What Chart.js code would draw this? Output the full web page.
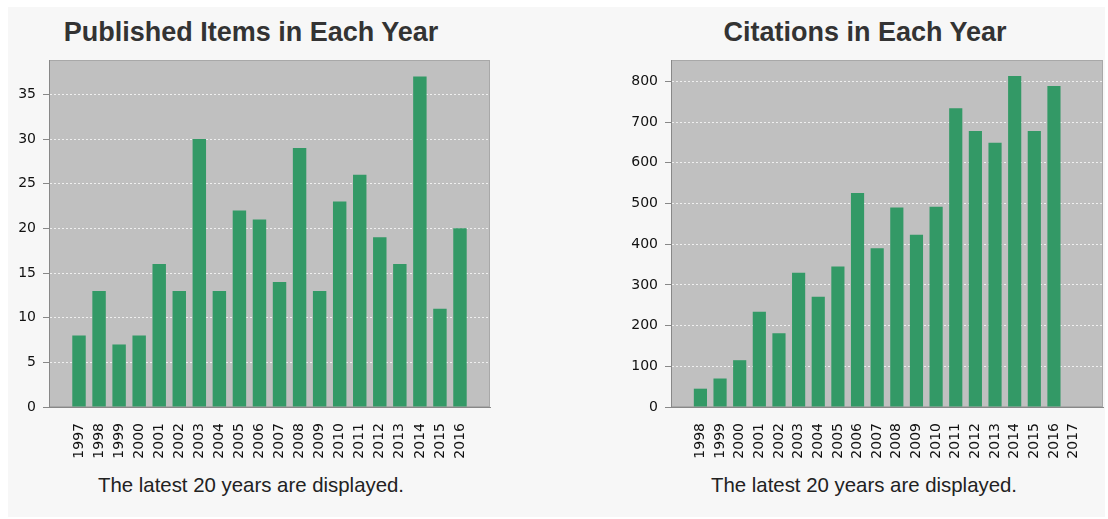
<!DOCTYPE html>
<html>
<head>
<meta charset="utf-8">
<script src="https://cdn.jsdelivr.net/npm/chart.js@4/dist/chart.umd.min.js"></script>
<style>
  body { margin: 0; background: #fff; width: 1108px; height: 519px; overflow: hidden; position: relative; font-family: "Liberation Sans", Arial, sans-serif; }
  .panel { position: absolute; left: 8px; top: 7px; width: 1097px; height: 510px; background: #f7f7f7; }
  .title { position: absolute; width: 500px; text-align: center; font-weight: bold; font-size: 27px; line-height: 30px; color: #333; top: 17px; }
  .foot { position: absolute; width: 500px; text-align: center; font-size: 20.4px; line-height: 24px; color: #222; top: 473px; }
  canvas { position: absolute; top: 0; }
</style>
</head>
<body>
<div class="panel"></div>
<div class="title" style="left:1px">Published Items in Each Year</div>
<div class="title" style="left:615px">Citations in Each Year</div>
<canvas id="items" width="500" height="470" style="left:0"></canvas>
<canvas id="cites" width="508" height="470" style="left:600px"></canvas>
<div class="foot" style="left:1px">The latest 20 years are displayed.</div>
<div class="foot" style="left:614px">The latest 20 years are displayed.</div>
<script>
// published items per year
const itemYears = [1997, 1998, 1999, 2000, 2001, 2002, 2003, 2004, 2005, 2006,
                   2007, 2008, 2009, 2010, 2011, 2012, 2013, 2014, 2015, 2016];
const itemCounts = [8, 13, 7, 8, 16, 13, 30, 13, 22, 21, 14, 29, 13, 23, 26, 19, 16, 37, 11, 20];
const itemTicks = [0, 5, 10, 15, 20, 25, 30, 35];

// citations per year (2017 has no bar)
const citeYears = [1998, 1999, 2000, 2001, 2002, 2003, 2004, 2005, 2006, 2007,
                   2008, 2009, 2010, 2011, 2012, 2013, 2014, 2015, 2016, 2017];
const citeCounts = [45, 70, 115, 234, 181, 330, 271, 345, 526, 390,
                    490, 423, 492, 734, 678, 649, 813, 678, 789, null];
const citeTicks = [0, 100, 200, 300, 400, 500, 600, 700, 800];

const plotBg = {
    id: 'plotBg',
    beforeDraw(chart) {
        const a = chart.chartArea, ctx = chart.ctx;
        ctx.save();
        ctx.fillStyle = '#c0c0c0';
        ctx.fillRect(a.left, a.top, a.right - a.left, a.bottom - a.top);
        ctx.strokeStyle = '#a8a8a8';
        ctx.lineWidth = 1;
        ctx.strokeRect(a.left + 0.5, a.top + 0.5, a.right - a.left - 1, a.bottom - a.top - 1);
        ctx.restore();
    }
};

function makeChart(canvasId, years, counts, yTicks, yMax, yWidth, padRight) {
    const ctx = document.getElementById(canvasId).getContext('2d');
    const tickFont = { family: 'DejaVu Sans', size: 14 };
    return new Chart(ctx, {
        type: 'bar',
        data: {
            datasets: [{
                data: years.map((y, i) => ({ x: i, y: counts[i] })),
                backgroundColor: '#339966',
                borderWidth: 0,
                barPercentage: 0.67,
                categoryPercentage: 1.0
            }]
        },
        options: {
            responsive: false,
            animation: false,
            layout: { padding: { top: 60, right: padRight, left: 0, bottom: 0 } },
            plugins: { legend: { display: false }, tooltip: { enabled: false } },
            scales: {
                x: {
                    type: 'linear',
                    offset: false,
                    min: -1.497,
                    max: years.length - 1 + 1.497,
                    afterBuildTicks: s => { s.ticks = years.map((_, i) => ({ value: i })); },
                    afterFit: s => { s.height = 63; },
                    grid: { display: false },
                    border: { color: '#888' },
                    ticks: {
                        autoSkip: false,
                        minRotation: 90,
                        maxRotation: 90,
                        padding: 8,
                        color: '#111',
                        font: tickFont,
                        callback: v => String(years[v])
                    }
                },
                y: {
                    min: 0,
                    max: yMax,
                    afterBuildTicks: s => { s.ticks = yTicks.map(v => ({ value: v })); },
                    afterFit: s => { s.width = yWidth; },
                    grid: { color: 'rgba(255,255,255,0.75)', tickColor: '#888', tickLength: 6 },
                    border: { color: '#888', dash: [2, 2] },
                    ticks: { padding: 7, color: '#111', font: tickFont }
                }
            }
        },
        plugins: [plotBg]
    });
}

makeChart('items', itemYears, itemCounts, itemTicks, 38.85, 49, 10);
makeChart('cites', citeYears, citeCounts, citeTicks, 852.6, 71, 5);
</script>
</body>
</html>
